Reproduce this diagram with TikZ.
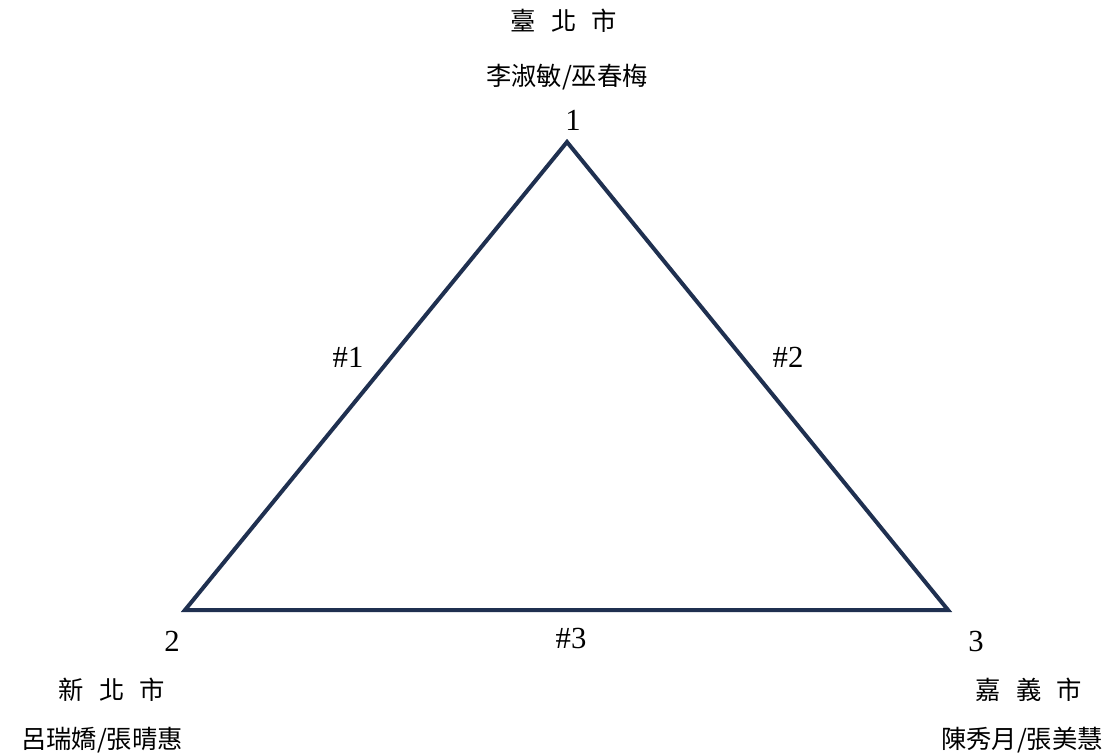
\documentclass[tikz,border=0pt]{standalone}
\usepackage{fontspec}
\setmainfont{Liberation Serif}
\newfontfamily\cjk{Noto Sans CJK TC}
\usepackage{tikz}
\definecolor{navy}{HTML}{1F3050}

\begin{document}
\begin{tikzpicture}[x=0.75pt,y=-0.75pt,
  lbl/.style={inner sep=0pt,font=\fontsize{23}{26}\selectfont},
  city/.style={inner sep=0pt,font=\cjk\fontsize{19}{21}\selectfont}]
\useasboundingbox (0,0) rectangle (1113,754);
% vertices
\coordinate (v1) at (567,142);
\coordinate (v2) at (185,610);
\coordinate (v3) at (948,610);
\draw[navy,line width=3pt,line join=miter] (v1)--(v2)--(v3)--cycle;
% vertex numbers and edge labels
\node[lbl] (n1) at (573,120) {1};
\node[lbl] (n2) at (172,641) {2};
\node[lbl] (n3) at (976,641) {3};
\node[lbl] (e1) at (348,357) {\#1};
\node[lbl] (e2) at (788,357) {\#2};
\node[lbl] (e3) at (571,638) {\#3};
% cities and names
\node[city] (c1) at (564,21) {臺\hspace{0.6em}北\hspace{0.6em}市};
\node[city] (p1) at (567,77) {李淑敏/巫春梅};
\node[city] (c2) at (112,690) {新\hspace{0.6em}北\hspace{0.6em}市};
\node[city] (p2) at (102,740) {呂瑞嬌/張晴惠};
\node[city] (c3) at (1029,690) {嘉\hspace{0.6em}義\hspace{0.6em}市};
\node[city] (p3) at (1022,740) {陳秀月/張美慧};
\end{tikzpicture}
\end{document}
